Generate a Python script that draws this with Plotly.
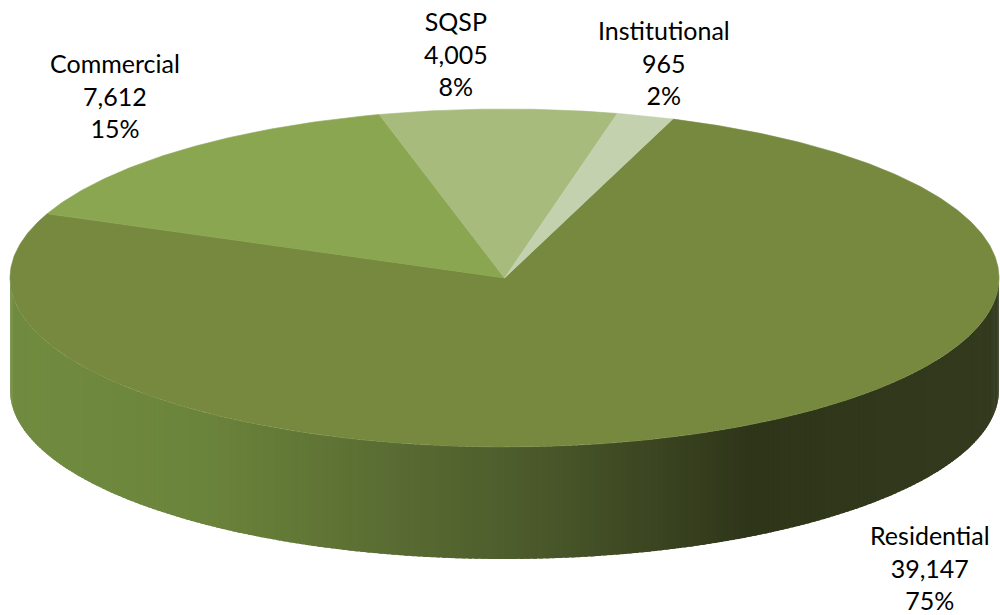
import numpy as np
import plotly.graph_objects as go

# ---- data ----
categories = ["Residential", "Commercial", "SQSP", "Institutional"]
values = [39147, 7612, 4005, 965]
percent_labels = ["75%", "15%", "8%", "2%"]
top_colors = ["#76893F", "#8AA650", "#A6BB7C", "#C4D1AF"]

# ---- 3-D pie geometry (page pixels, y grows downward) ----
CX, CY = 504.5, 278.0      # centre of the top face
RX, RY = 494.5, 169.0      # semi-axes of the top ellipse
DEPTH = 112.0              # thickness of the disc
START_DEG = 19.9           # first slice starts here, clockwise from 12 o'clock

# side shading: horizontal gradient (x position -> colour)
shade_x = [0, 200, 500, 750, 1000]
shade_rgb = [(113, 140, 64), (107, 132, 59), (79, 94, 45), (46, 53, 25), (51, 58, 30)]

# label block centres
label_pos = {
    "Residential": (930, 567),
    "Commercial": (115, 95),
    "SQSP": (456, 53),
    "Institutional": (664, 62),
}


def edge(theta_deg, drop=0.0):
    t = np.radians(theta_deg)
    return CX + RX * np.sin(t), CY - RY * np.cos(t) + drop


def side_colour(x):
    r, g, b = (np.interp(x, shade_x, [c[i] for c in shade_rgb]) for i in range(3))
    return f"rgb({r:.0f},{g:.0f},{b:.0f})"


total = float(sum(values))
spans = [v / total * 360.0 for v in values]
starts = START_DEG + np.concatenate([[0.0], np.cumsum(spans)[:-1]])

fig = go.Figure()

# front wall of the disc (only the part facing the viewer, 90..270 degrees)
for s, span in zip(starts, spans):
    e = s + span
    for k in (-360, 0, 360):
        a0, a1 = max(s + k, 90.0), min(e + k, 270.0)
        if a1 <= a0:
            continue
        n = max(2, int(np.ceil((a1 - a0) / 0.75)))
        cuts = np.linspace(a0, a1, n + 1)
        for c0, c1 in zip(cuts[:-1], cuts[1:]):
            # small overlap with the next strip hides seams
            th = np.linspace(c0, min(c1 + 0.5, a1), 4)
            xt, yt = edge(th)
            xb, yb = edge(th[::-1], DEPTH)
            xs = np.concatenate([xt, xb, xt[:1]])
            ys = np.concatenate([yt, yb, yt[:1]])
            col = side_colour(float(np.mean(xt)))
            fig.add_trace(go.Scatter(
                x=xs, y=ys, mode="lines", fill="toself",
                fillcolor=col, line=dict(width=0),
                hoverinfo="skip", showlegend=False))

# top faces of the slices
for cat, s, span, col in zip(categories, starts, spans, top_colors):
    th = np.linspace(s, s + span, max(8, int(span * 2)))
    xa, ya = edge(th)
    xs = np.concatenate([[CX], xa, [CX]])
    ys = np.concatenate([[CY], ya, [CY]])
    fig.add_trace(go.Scatter(
        x=xs, y=ys, mode="lines", fill="toself",
        fillcolor=col, line=dict(color=col, width=0.6),
        name=cat, hoverinfo="skip", showlegend=False))

# data labels: name, value, percentage
for cat, v, pct in zip(categories, values, percent_labels):
    lx, ly = label_pos[cat]
    fig.add_annotation(
        x=lx, y=ly, xref="x", yref="y",
        text=f"{cat}<br>{v:,}<br>{pct}",
        showarrow=False, align="center",
        xanchor="center", yanchor="middle",
        font=dict(family="Lato", size=25, color="#000000"))

fig.update_xaxes(range=[0, 1000], visible=False, fixedrange=True)
fig.update_yaxes(range=[615, 0], visible=False, fixedrange=True)
fig.update_layout(
    width=1000, height=615,
    margin=dict(l=0, r=0, t=0, b=0),
    paper_bgcolor="white", plot_bgcolor="white",
    showlegend=False,
)

fig.write_html("out.html")
